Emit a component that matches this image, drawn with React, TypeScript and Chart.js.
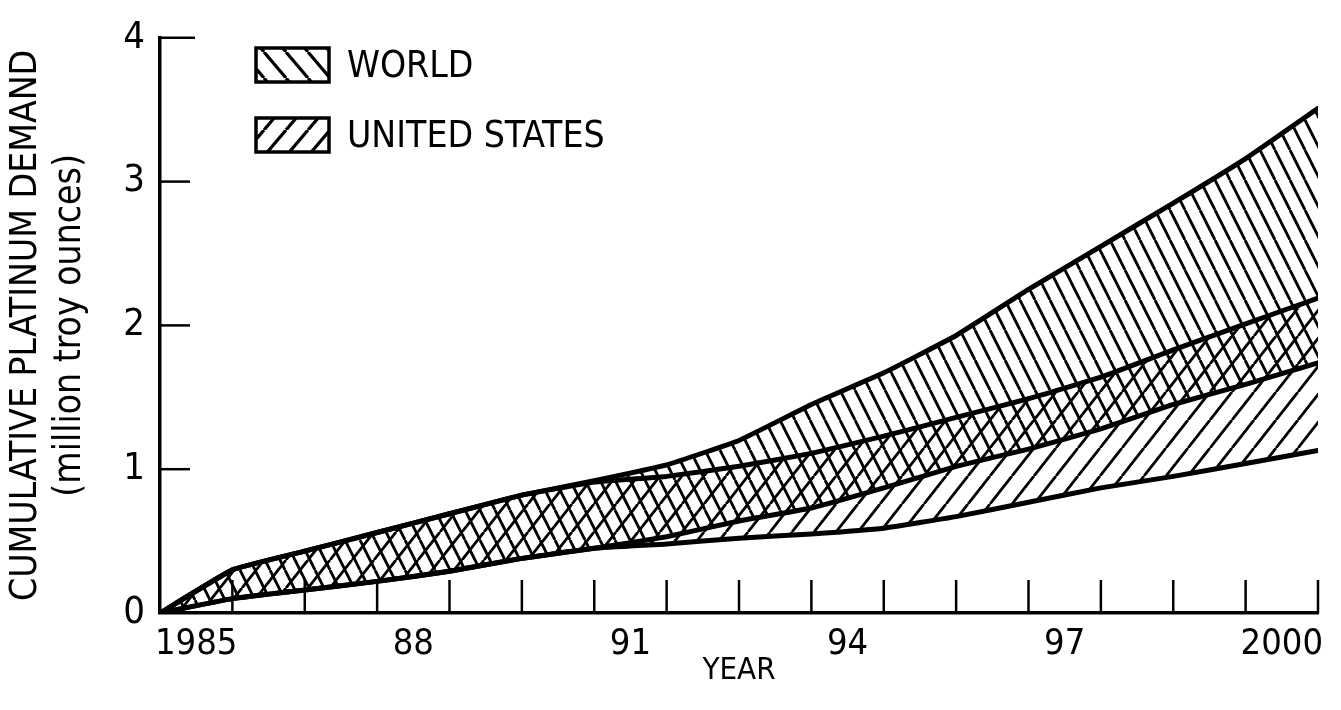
import React, { useEffect, useRef } from 'react';
import { Chart, registerables } from 'chart.js';

Chart.register(...registerables);

// ---- data ----
const years = [1985, 1986, 1987, 1988, 1989, 1990, 1991, 1992, 1993, 1994, 1995, 1996, 1997, 1998, 1999, 2000, 2001];
const worldUpper = [0, 0.30, 0.43, 0.56, 0.69, 0.82, 0.92, 1.03, 1.20, 1.45, 1.67, 1.93, 2.25, 2.55, 2.85, 3.16, 3.51];
const worldLower = [0, 0.10, 0.16, 0.22, 0.29, 0.38, 0.45, 0.53, 0.64, 0.73, 0.87, 1.02, 1.14, 1.28, 1.45, 1.59, 1.74];
const usUpper = [0, 0.30, 0.43, 0.56, 0.69, 0.82, 0.91, 0.95, 1.02, 1.11, 1.23, 1.36, 1.49, 1.64, 1.83, 2.01, 2.19];
const usLower = [0, 0.10, 0.16, 0.22, 0.29, 0.38, 0.45, 0.48, 0.52, 0.55, 0.59, 0.67, 0.77, 0.87, 0.95, 1.04, 1.13];
const xLabelYears = [1985, 1988, 1991, 1994, 1997, 2000];
const xLabelTexts = ['1985', '88', '91', '94', '97', '2000'];
const yTickValues = [1, 2, 3, 4];
const legendLabels = ['WORLD', 'UNITED STATES'];
const yTitle = ['CUMULATIVE PLATINUM DEMAND', '(million troy ounces)'];
const xTitle = 'YEAR';

const FONT = '"Liberation Sans Narrow", "DejaVu Sans Condensed", "Arial Narrow", sans-serif';

function makeHatch(dir: 'back' | 'fwd', w: number, h: number, lw: number): CanvasPattern | string {
  const c = document.createElement('canvas');
  c.width = w;
  c.height = h;
  const ctx = c.getContext('2d');
  if (!ctx) return 'transparent';
  ctx.strokeStyle = '#000';
  ctx.lineWidth = lw;
  ctx.beginPath();
  for (const off of [-w, 0, w]) {
    if (dir === 'back') {
      ctx.moveTo(off, 0);
      ctx.lineTo(off + w, h);
    } else {
      ctx.moveTo(off, h);
      ctx.lineTo(off + w, 0);
    }
  }
  ctx.stroke();
  return ctx.createPattern(c, 'repeat') || 'transparent';
}

export default function App() {
  const canvasRef = useRef<HTMLCanvasElement | null>(null);

  useEffect(() => {
    document.body.style.margin = '0';
    const canvas = canvasRef.current;
    if (!canvas) return;

    const worldPattern = makeHatch('back', 15, 30, 2.8);
    const usPattern = makeHatch('fwd', 22, 28, 2.8);
    const worldLegendPattern = makeHatch('back', 22, 26, 3.2);
    const usLegendPattern = makeHatch('fwd', 22, 26, 3.2);

    const decor = {
      id: 'decor',
      afterDraw(chart: any) {
        const { ctx, scales } = chart;
        const x = scales.x;
        const y = scales.y;
        ctx.save();
        ctx.strokeStyle = '#000';
        ctx.lineWidth = 2.5;
        const y0 = y.getPixelForValue(0);
        const x0 = x.getPixelForValue(years[0]);
        // inward x tick marks at every year boundary
        for (const yr of years.slice(1)) {
          const px = x.getPixelForValue(yr);
          ctx.beginPath();
          ctx.moveTo(px, y0);
          ctx.lineTo(px, y0 - 33);
          ctx.stroke();
        }
        // inward y tick marks
        for (const v of yTickValues) {
          const py = y.getPixelForValue(v);
          ctx.beginPath();
          ctx.moveTo(x0, py);
          ctx.lineTo(x0 + (v === 4 ? 35 : 30), py);
          ctx.stroke();
        }
        // legend
        const fills = [worldLegendPattern, usLegendPattern];
        const boxL = 256;
        const boxW = 73;
        const boxH = 34;
        const tops = [48, 118];
        ctx.font = `37px ${FONT}`;
        ctx.textBaseline = 'middle';
        ctx.textAlign = 'left';
        legendLabels.forEach((lab, i) => {
          ctx.fillStyle = fills[i] as any;
          ctx.fillRect(boxL, tops[i], boxW, boxH);
          ctx.lineWidth = 3.5;
          ctx.strokeStyle = '#000';
          ctx.strokeRect(boxL, tops[i], boxW, boxH);
          ctx.fillStyle = '#000';
          ctx.fillText(lab, boxL + 91, tops[i] + boxH / 2 + 2);
        });
        ctx.restore();
      },
    };

    const lineCommon = {
      borderColor: '#000',
      borderWidth: 5,
      pointRadius: 0,
      tension: 0.1,
      borderJoinStyle: 'round' as const,
      borderCapStyle: 'round' as const,
    };

    const chart = new Chart(canvas, {
      type: 'line',
      data: {
        datasets: [
          {
            ...lineCommon,
            label: legendLabels[0],
            data: years.map((yr, i) => ({ x: yr, y: worldUpper[i] })),
            fill: { target: 2 },
            backgroundColor: worldPattern as any,
          },
          {
            ...lineCommon,
            label: legendLabels[1],
            data: years.map((yr, i) => ({ x: yr, y: usUpper[i] })),
            fill: { target: 3 },
            backgroundColor: usPattern as any,
          },
          {
            ...lineCommon,
            label: 'world-lower',
            data: years.map((yr, i) => ({ x: yr, y: worldLower[i] })),
            fill: false,
          },
          {
            ...lineCommon,
            label: 'us-lower',
            data: years.map((yr, i) => ({ x: yr, y: usLower[i] })),
            fill: false,
          },
        ],
      },
      options: {
        responsive: false,
        animation: false,
        layout: { padding: { top: 23, right: 23, left: 0, bottom: 0 } },
        plugins: {
          legend: { display: false },
          tooltip: { enabled: false },
          filler: { drawTime: 'beforeDatasetsDraw' },
        },
        scales: {
          x: {
            type: 'linear',
            min: years[0],
            max: years[years.length - 1],
            grid: { display: false, drawTicks: false },
            border: { display: true, color: '#000', width: 3.5 },
            afterBuildTicks: (scale: any) => {
              scale.ticks = xLabelYears.map((v) => ({ value: v + 0.5 }));
            },
            afterFit: (scale: any) => {
              scale.height = 97;
            },
            ticks: {
              color: '#000',
              padding: 10,
              maxRotation: 0,
              autoSkip: false,
              font: { family: FONT, size: 36 },
              callback: (value: any) => {
                const idx = xLabelYears.indexOf(Math.round(Number(value) - 0.5));
                return idx >= 0 ? xLabelTexts[idx] : '';
              },
            },
            title: {
              display: true,
              text: xTitle,
              color: '#000',
              font: { family: FONT, size: 31 },
              padding: { top: 0, bottom: 20 },
            },
          },
          y: {
            type: 'linear',
            min: 0,
            max: 4,
            grid: { display: false, drawTicks: false },
            border: { display: true, color: '#000', width: 3.5 },
            afterFit: (scale: any) => {
              scale.width = 160;
            },
            ticks: {
              stepSize: 1,
              color: '#000',
              padding: 15,
              font: { family: FONT, size: 38 },
            },
            title: {
              display: true,
              text: yTitle,
              color: '#000',
              font: { family: FONT, size: 37, lineHeight: 1.2 },
              padding: { top: 4, bottom: 4 },
            },
          },
        },
      },
      plugins: [decor],
    });

    return () => {
      chart.destroy();
    };
  }, []);

  return (
    <div style={{ width: 1341, height: 710 }}>
      <canvas ref={canvasRef} width={1341} height={710} />
    </div>
  );
}
